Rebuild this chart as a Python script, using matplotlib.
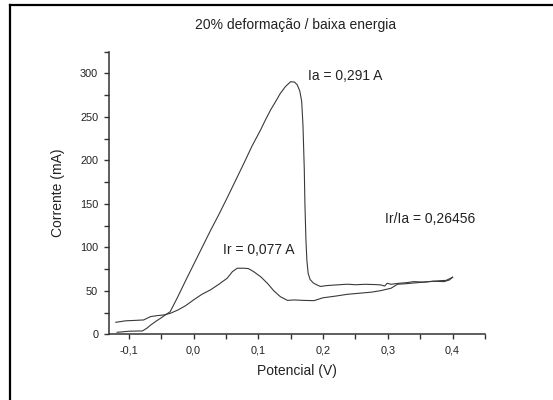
import matplotlib
matplotlib.use("Agg")
import matplotlib.pyplot as plt
from matplotlib.ticker import MultipleLocator, FuncFormatter
from matplotlib.lines import Line2D

plt.rcParams['font.family'] = ['Liberation Sans', 'DejaVu Sans']

# Forward (anodic) scan
fwd_v = [-0.118, -0.10, -0.085, -0.079, -0.072, -0.066, -0.058, -0.051, -0.044, -0.036,
         -0.025, -0.012, 0.0, 0.012, 0.026, 0.040, 0.052, 0.065, 0.078, 0.090, 0.1035,
         0.112, 0.119, 0.127, 0.134, 0.142, 0.150, 0.156, 0.160, 0.164, 0.167, 0.169,
         0.171, 0.172, 0.1735, 0.175, 0.177, 0.180, 0.185, 0.190, 0.196, 0.205, 0.215,
         0.225, 0.2375, 0.25, 0.265, 0.28, 0.289, 0.295, 0.299, 0.305, 0.315, 0.33, 0.34,
         0.355, 0.37, 0.387, 0.395, 0.4]
fwd_i = [2.3, 3.5, 3.8, 3.8, 7, 10.7, 15, 18.4, 22, 26,
         42, 62, 80, 98, 119, 139, 157, 177, 197, 216, 235,
         248, 258, 268, 277, 285, 290.5, 290, 287, 280, 268, 240,
         190, 150, 110, 85, 70, 63, 59, 57, 55, 56, 56.5,
         57, 57.6, 57, 57.5, 57.2, 56.8, 55.5, 58.7, 57.5, 58.5, 59.5, 60.6,
         60, 61, 60.6, 62.5, 65.6]

# Reverse scan
rev_v = [0.4, 0.39, 0.382, 0.37, 0.355, 0.34, 0.325, 0.315, 0.305, 0.289, 0.275, 0.26,
         0.2375, 0.22, 0.2, 0.186, 0.17, 0.155, 0.145, 0.134, 0.124, 0.114, 0.104, 0.093,
         0.085, 0.078, 0.0675, 0.06, 0.052, 0.04, 0.026, 0.013, 0.0, -0.012, -0.024,
         -0.0355, -0.046, -0.056, -0.0665, -0.077, -0.09, -0.105, -0.12]
rev_i = [65.6, 62, 61.7, 61, 60, 59, 58, 57.6, 53, 50.2, 48.5, 47.5,
         46, 44, 42, 38.7, 39, 39.5, 39, 43.3, 50, 58.7, 66, 72,
         75.5, 76, 76, 72, 64.5, 58, 51, 46, 39.5, 33, 28,
         24.2, 22.2, 21.5, 20.3, 16.5, 16, 15.5, 13.8]

title = "20% deformação / baixa energia"
xlabel = "Potencial (V)"
ylabel = "Corrente (mA)"
notes = [("Ia = 0,291 A", 0.176, 296.8),
         ("Ir/Ia = 0,26456", 0.296, 132.8),
         ("Ir = 0,077 A", 0.0456, 97.1)]

fig = plt.figure(figsize=(5.53, 4.0), dpi=100)
ax = fig.add_axes([109.3/553, (400-334.3)/400, (485-109.3)/553, (334.3-51.7)/400])

ax.plot(fwd_v, fwd_i, color='#3a3a3a', lw=0.8)
ax.plot(rev_v, rev_i, color='#3a3a3a', lw=0.8)

ax.set_xlim(-0.13, 0.45)
ax.set_ylim(0, 325)
for s in ['top', 'right']:
    ax.spines[s].set_visible(False)
for s in ['left', 'bottom']:
    ax.spines[s].set_linewidth(1.1)
    ax.spines[s].set_color('#333333')

ax.xaxis.set_major_locator(MultipleLocator(0.1))
ax.xaxis.set_minor_locator(MultipleLocator(0.05))
ax.yaxis.set_major_locator(MultipleLocator(50))
ax.yaxis.set_minor_locator(MultipleLocator(25))
ax.xaxis.set_major_formatter(FuncFormatter(lambda v, p: f"{v:.1f}".replace('.', ',').replace('-0,0', '0,0')))
ax.tick_params(which='both', direction='out', length=3.5, width=1.0, color='#333333',
               labelsize=7.8, pad=4.5, labelcolor='#222222')

ax.set_xlabel(xlabel, fontsize=10, color='#222222', labelpad=6)
ax.set_ylabel(ylabel, fontsize=10, color='#222222', labelpad=11)
fig.text(295.5/553, 1 - 25/400, title, ha='center', va='center', fontsize=10, color='#222222')

for txt, x, y in notes:
    ax.text(x, y, txt, ha='left', va='center', fontsize=10, color='#222222')

# image frame (left and top edges)
fig.add_artist(Line2D([10/553, 10/553], [0, 1 - 5/400], transform=fig.transFigure, color='black', lw=1.6))
fig.add_artist(Line2D([10/553, 1], [1 - 5/400, 1 - 5/400], transform=fig.transFigure, color='black', lw=1.6))

fig.savefig("out.png", dpi=100)
